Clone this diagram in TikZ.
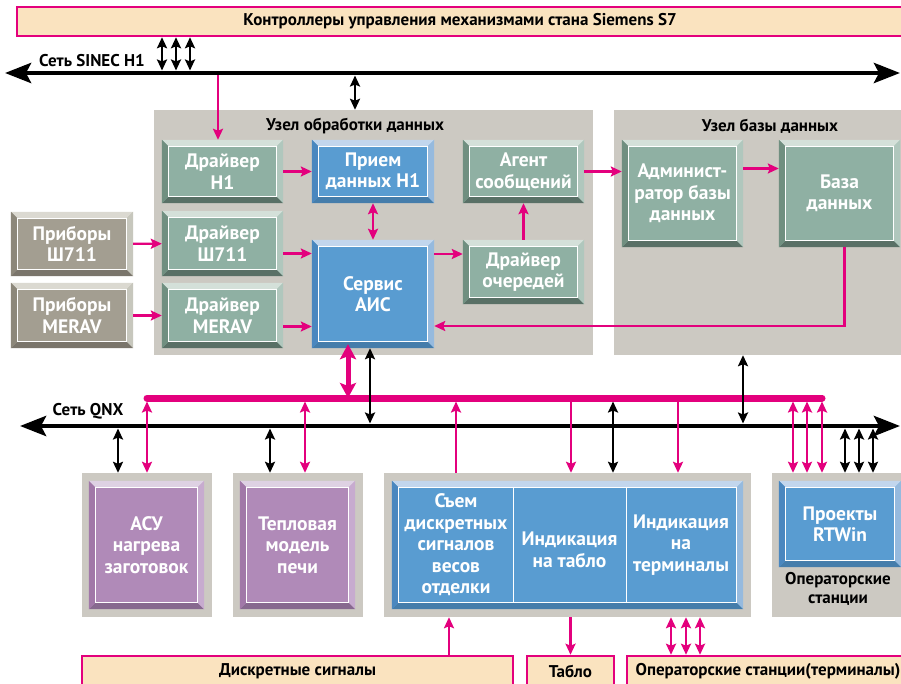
\documentclass[tikz,border=0pt]{standalone}
\usepackage{fontspec}
\setmainfont{PT Sans}
\usepackage{tikz}
\usetikzlibrary{arrows.meta}
\definecolor{magColor}{rgb}{0.89,0,0.49}
\definecolor{peachColor}{rgb}{0.98,0.89,0.75}
\definecolor{nodeGray}{rgb}{0.80,0.79,0.76}
\definecolor{grnMid}{rgb}{0.56,0.69,0.64}
\definecolor{grnTop}{rgb}{0.83,0.88,0.85}
\definecolor{grnLeft}{rgb}{0.44,0.56,0.50}
\definecolor{grnRight}{rgb}{0.69,0.78,0.74}
\definecolor{grnBot}{rgb}{0.35,0.44,0.40}
\definecolor{bluMid}{rgb}{0.35,0.61,0.82}
\definecolor{bluTop}{rgb}{0.76,0.84,0.93}
\definecolor{bluLeft}{rgb}{0.29,0.53,0.75}
\definecolor{bluRight}{rgb}{0.59,0.73,0.87}
\definecolor{bluBot}{rgb}{0.27,0.49,0.67}
\definecolor{prpMid}{rgb}{0.69,0.54,0.72}
\definecolor{prpTop}{rgb}{0.87,0.82,0.89}
\definecolor{prpLeft}{rgb}{0.63,0.47,0.66}
\definecolor{prpRight}{rgb}{0.78,0.67,0.81}
\definecolor{prpBot}{rgb}{0.53,0.41,0.56}
\definecolor{devMid}{rgb}{0.64,0.62,0.57}
\definecolor{devTop}{rgb}{0.86,0.85,0.82}
\definecolor{devLeft}{rgb}{0.55,0.53,0.48}
\definecolor{devRight}{rgb}{0.78,0.78,0.74}
\definecolor{devBot}{rgb}{0.48,0.46,0.42}

\begin{document}
\begin{tikzpicture}[x=1pt, y=-1pt]

          \tikzstyle{frameNode} = [rectangle, fill=nodeGray, inner sep=0pt];
          \tikzstyle{peachBox} = [rectangle, fill=peachColor, draw=magColor, line width=2.5pt, inner sep=0pt, font=\fontsize{17}{19}\selectfont\bfseries];
          \tikzstyle{labelNode} = [black, align=center, font=\fontsize{17}{19}\selectfont\bfseries];
          \tikzstyle{boxNode} = [rectangle, inner sep=0pt, text=white, align=center, font=\fontsize{19.5}{21.5}\selectfont\bfseries];
          \tikzstyle{greenBox} = [boxNode, fill=grnMid];
          \tikzstyle{blueBox} = [boxNode, fill=bluMid];
          \tikzstyle{purpleBox} = [boxNode, fill=prpMid];
          \tikzstyle{deviceBox} = [boxNode, fill=devMid];
          \tikzstyle{boxText} = [text=white, align=center, font=\fontsize{19.5}{21.5}\selectfont\bfseries];

          \tikzstyle{busLine} = [line width=4.5pt, {Stealth[length=26pt,width=20pt,inset=5pt]}-{Stealth[length=26pt,width=20pt,inset=5pt]}];
          \tikzstyle{magBus} = [magColor, line width=7pt, line cap=round];
          \tikzstyle{magArrow} = [magColor, line width=2.4pt, -{Stealth[length=11pt,width=10pt,inset=2pt]}];
          \tikzstyle{magDouble} = [magColor, line width=2.4pt, {Stealth[length=11pt,width=10pt,inset=2pt]}-{Stealth[length=11pt,width=10pt,inset=2pt]}];
          \tikzstyle{magThick} = [magColor, line width=5pt, {Stealth[length=15pt,width=16pt,inset=3pt]}-{Stealth[length=15pt,width=16pt,inset=3pt]}];
          \tikzstyle{blkDouble} = [black, line width=2.4pt, {Stealth[length=11pt,width=10pt,inset=2pt]}-{Stealth[length=11pt,width=10pt,inset=2pt]}];

          \useasboundingbox[fill=white] (0,0) rectangle (901,684);

          % frames
          \node[frameNode, minimum width=439pt, minimum height=245pt] (procNode) at (373.5,232.5) {};
          \node[frameNode, minimum width=291pt, minimum height=245pt] (dbNode) at (759.5,232.5) {};
          \node[frameNode, minimum width=130pt, minimum height=144pt] (asuFrame) at (147,545) {};
          \node[frameNode, minimum width=130pt, minimum height=144pt] (heatFrame) at (298,545) {};
          \node[frameNode, minimum width=367pt, minimum height=144pt] (indFrame) at (567.5,545) {};
          \node[frameNode, minimum width=133pt, minimum height=144pt] (opFrame) at (838.5,545) {};

          % peach boxes
          \node[peachBox, minimum width=886pt, minimum height=29pt] (ctrl) at (460,21.5) {Контроллеры управления механизмами стана Siemens S7};
          \node[peachBox, minimum width=431pt, minimum height=30pt] (discr) at (297.5,671) {Дискретные сигналы};
          \node[peachBox, minimum width=87pt, minimum height=30pt] (tablo) at (570.5,671) {Табло};
          \node[peachBox, minimum width=282pt, minimum height=30pt] (opTerm) at (768,671) {Операторские станции(терминалы)};

          % boxes
          \node[greenBox, minimum width=121pt, minimum height=63pt] (drvH) at (222.5,171.5) {Драйвер\\H1};
          \node[greenBox, minimum width=121pt, minimum height=65pt] (drvS) at (222.5,243.5) {Драйвер\\Ш711};
          \node[greenBox, minimum width=121pt, minimum height=65pt] (drvM) at (222.5,315.5) {Драйвер\\MERAV};
          \node[blueBox, minimum width=122pt, minimum height=63pt] (recH) at (373,171.5) {Прием\\данных H1};
          \node[blueBox, minimum width=122pt, minimum height=108pt] (aisSrv) at (373,294) {Сервис\\АИС};
          \node[greenBox, minimum width=121pt, minimum height=63pt] (agent) at (523.5,171.5) {Агент\\сообщений};
          \node[greenBox, minimum width=121pt, minimum height=64pt] (drvQ) at (523.5,272) {Драйвер\\очередей};
          \node[greenBox, minimum width=121pt, minimum height=107pt] (admin) at (682.5,193.5) {Админист-\\ратор базы\\данных};
          \node[greenBox, minimum width=121pt, minimum height=107pt] (dbase) at (839.5,193.5) {База\\данных};
          \node[deviceBox, minimum width=122pt, minimum height=64pt] (devS) at (72,244) {Приборы\\Ш711};
          \node[deviceBox, minimum width=122pt, minimum height=65pt] (devM) at (72,315.5) {Приборы\\MERAV};
          \node[purpleBox, minimum width=115pt, minimum height=128pt] (asu) at (146.5,545) {АСУ\\нагрева\\заготовок};
          \node[purpleBox, minimum width=115pt, minimum height=128pt] (heat) at (297.5,545) {Тепловая\\модель\\печи};
          \node[blueBox, minimum width=351pt, minimum height=128pt] (indBox) at (567.5,545) {};
          \node[blueBox, minimum width=122pt, minimum height=86pt] (rtwin) at (840,524) {Проекты\\RTWin};

          % bevels
          \foreach \n/\c in {drvH/grn, drvS/grn, drvM/grn, agent/grn, drvQ/grn, admin/grn, dbase/grn, recH/blu, aisSrv/blu, indBox/blu, rtwin/blu, devS/dev, devM/dev, asu/prp, heat/prp} {
            \fill[\c Top] (\n.north west) -- (\n.north east) -- ([shift={(-7,7)}]\n.north east) -- ([shift={(7,7)}]\n.north west) -- cycle;
            \fill[\c Bot] (\n.south west) -- (\n.south east) -- ([shift={(-7,-7)}]\n.south east) -- ([shift={(7,-7)}]\n.south west) -- cycle;
            \fill[\c Left] (\n.north west) -- ([shift={(7,7)}]\n.north west) -- ([shift={(7,-7)}]\n.south west) -- (\n.south west) -- cycle;
            \fill[\c Right] (\n.north east) -- ([shift={(-7,7)}]\n.north east) -- ([shift={(-7,-7)}]\n.south east) -- (\n.south east) -- cycle;
            \draw[white, line width=1pt] ([shift={(7,7)}]\n.north west) rectangle ([shift={(-7,-7)}]\n.south east);
          }

          % indication box texts
          \node[boxText] (sem) at (456,545) {Съем\\дискретных\\сигналов\\весов\\отделки};
          \node[boxText] (indTab) at (569.5,550) {Индикация\\на табло};
          \node[boxText] (indTerm) at (681,545) {Индикация\\на\\терминалы};
          \draw[white, line width=1pt] (513,488) -- (513,602);
          \draw[white, line width=1pt] (626,488) -- (626,602);

          % labels
          \node[labelNode] (procLabel) at (355,126) {Узел обработки данных};
          \node[labelNode] (dbLabel) at (770,126) {Узел базы данных};
          \node[labelNode] (h1Label) at (92,61) {Сеть SINEC H1};
          \node[labelNode] (qnxLabel) at (88,411) {Сеть QNX};
          \node[labelNode] (opLabel) at (838,589) {Операторские\\станции};

          % buses
          \coordinate (h1L) at (5,73);
          \coordinate (h1R) at (900,73);
          \coordinate (qnxL) at (20,426);
          \coordinate (qnxR) at (900,426);
          \coordinate (magL) at (147,398);
          \coordinate (magR) at (822,398);
          \coordinate (h1Top) at (0,70.5);
          \coordinate (h1Bot) at (0,75.5);
          \coordinate (qnxTop) at (0,423.5);
          \coordinate (qnxBot) at (0,428.5);
          \coordinate (magBot) at (0,401.5);
          \draw[busLine] (h1L) -- (h1R);
          \draw[busLine] (qnxL) -- (qnxR);
          \draw[magBus] (magL) -- (magR);

          % inside the nodes
          \draw[magArrow] (drvH) -- (recH);
          \draw[magArrow] (devS) -- (drvS);
          \draw[magArrow] (devM) -- (drvM);
          \draw[magArrow] ([yshift=-10pt]drvS.east) -- ([yshift=-10pt]drvS.east -| aisSrv.west);
          \draw[magArrow] ([yshift=-11pt]drvM.east) -- ([yshift=-11pt]drvM.east -| aisSrv.west);
          \draw[magDouble] (recH) -- (aisSrv);
          \draw[magArrow] ([yshift=18pt]drvQ.west -| aisSrv.east) -- ([yshift=18pt]drvQ.west);
          \draw[magArrow] (drvQ) -- (agent);
          \draw[magArrow] (agent.east) -- (agent.east -| admin.west);
          \draw[magArrow] ([yshift=25pt]admin.east) -- ([yshift=25pt]dbase.west);
          \draw[magArrow] ([xshift=5pt]dbase.south) |- ([yshift=-32pt]aisSrv.east);

          % to the SINEC H1 bus
          \foreach \x in {162,176,190} {
            \coordinate (t) at (\x,0);
            \draw[blkDouble] (ctrl.south -| t) -- (h1Top -| t);
          }
          \coordinate (t) at (218,0);
          \draw[magArrow] (h1Bot -| t) -- (drvH.north -| t);
          \coordinate (t) at (355,0);
          \draw[blkDouble] (h1Bot -| t) -- (procNode.north -| t);

          % to the QNX buses
          \coordinate (t) at (348,0);
          \draw[magThick] ([yshift=4pt]aisSrv.south -| t) -- (magL -| t);
          \coordinate (t) at (370,0);
          \draw[blkDouble] (aisSrv.south -| t) -- (qnxTop -| t);
          \coordinate (t) at (743,0);
          \draw[blkDouble] (dbNode.south -| t) -- (qnxTop -| t);
          \foreach \x in {118,270} {
            \coordinate (t) at (\x,0);
            \draw[blkDouble] (qnxBot -| t) -- (asuFrame.north -| t);
          }
          \foreach \x in {147,305} {
            \coordinate (t) at (\x,0);
            \draw[magDouble] (magBot -| t) -- (asuFrame.north -| t);
          }
          \coordinate (t) at (456,0);
          \draw[magArrow] (indFrame.north -| t) -- (magBot -| t);
          \foreach \x in {571,678} {
            \coordinate (t) at (\x,0);
            \draw[magArrow] (magBot -| t) -- (indFrame.north -| t);
          }
          \coordinate (t) at (613,0);
          \draw[blkDouble] (magBot -| t) -- (indFrame.north -| t);
          \foreach \x in {793,807,822} {
            \coordinate (t) at (\x,0);
            \draw[magDouble] (magBot -| t) -- (opFrame.north -| t);
          }
          \foreach \x in {845,859,873} {
            \coordinate (t) at (\x,0);
            \draw[blkDouble] (qnxBot -| t) -- (opFrame.north -| t);
          }

          % bottom boxes
          \coordinate (t) at (449,0);
          \draw[magArrow] (discr.north -| t) -- (indFrame.south -| t);
          \draw[magArrow] (indFrame.south -| tablo) -- (tablo);
          \foreach \x in {671,686,700} {
            \coordinate (t) at (\x,0);
            \draw[magDouble] (indFrame.south -| t) -- (opTerm.north -| t);
          }
        \end{tikzpicture}
\end{document}
